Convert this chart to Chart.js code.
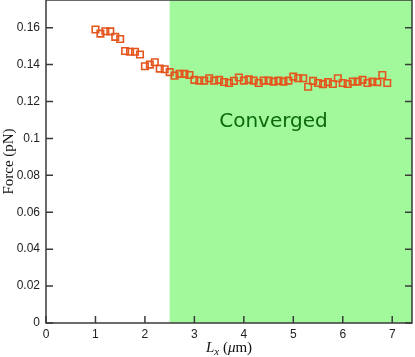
<!DOCTYPE html>
<html>
<head>
<meta charset="utf-8">
<script src="https://cdn.jsdelivr.net/npm/chart.js@4/dist/chart.umd.min.js"></script>
<style>
    html, body { margin: 0; padding: 0; background: #fff; }
    #wrap { width: 415px; height: 357px; }
</style>
</head>
<body>
<div id="wrap"><canvas id="forceChart" width="415" height="357"></canvas></div>
<script>
// Box length Lx (um) of each run
const lengths = [
    1.0, 1.1, 1.2, 1.3, 1.4, 1.5, 1.6, 1.7, 1.8, 1.9,
    2.0, 2.1, 2.2, 2.3, 2.4, 2.5, 2.6, 2.7, 2.8, 2.9,
    3.0, 3.1, 3.2, 3.3, 3.4, 3.5, 3.6, 3.7, 3.8, 3.9,
    4.0, 4.1, 4.2, 4.3, 4.4, 4.5, 4.6, 4.7, 4.8, 4.9,
    5.0, 5.1, 5.2, 5.3, 5.4, 5.5, 5.6, 5.7, 5.8, 5.9,
    6.0, 6.1, 6.2, 6.3, 6.4, 6.5, 6.6, 6.7, 6.8, 6.9
];
// Measured force (pN)
const forces = [
    0.1590, 0.1568, 0.1581, 0.1580, 0.1550, 0.1539, 0.1474, 0.1470, 0.1470, 0.1455,
    0.1391, 0.1400, 0.1413, 0.1378, 0.1375, 0.1359, 0.1340, 0.1350, 0.1350, 0.1344,
    0.1317, 0.1313, 0.1313, 0.1326, 0.1313, 0.1317, 0.1306, 0.1300, 0.1312, 0.1330,
    0.1313, 0.1320, 0.1313, 0.1300, 0.1313, 0.1313, 0.1308, 0.1313, 0.1308, 0.1313,
    0.1335, 0.1326, 0.1326, 0.1280, 0.1312, 0.1300, 0.1294, 0.1305, 0.1295, 0.1326,
    0.1300, 0.1295, 0.1308, 0.1308, 0.1317, 0.1300, 0.1308, 0.1305, 0.1344, 0.1300
];
const xTicks = [0, 1, 2, 3, 4, 5, 6, 7];
const yTicks = [0, 0.02, 0.04, 0.06, 0.08, 0.1, 0.12, 0.14, 0.16];
const convergedFrom = 2.5;
const convergedLabel = "Converged";

const axisColor = "#3a3a3a";

// green shaded band + label, drawn under the markers
const bandPlugin = {
    id: "band",
    beforeDatasetsDraw(chart) {
        const { ctx, chartArea, scales } = chart;
        const x0 = scales.x.getPixelForValue(convergedFrom);
        ctx.save();
        ctx.fillStyle = "#a2f99c";
        ctx.fillRect(x0, chartArea.top, chartArea.right - x0, chartArea.bottom - chartArea.top);
        ctx.fillStyle = "#0b6a0b";
        ctx.font = "20px 'DejaVu Sans'";
        ctx.textAlign = "center";
        ctx.textBaseline = "middle";
        ctx.fillText(convergedLabel, scales.x.getPixelForValue(4.6), scales.y.getPixelForValue(0.109));
        ctx.restore();
    }
};

// box, inward ticks and the two axis titles
const framePlugin = {
    id: "frame",
    afterDraw(chart) {
        const { ctx, chartArea: a, scales } = chart;
        ctx.save();
        ctx.strokeStyle = axisColor;
        ctx.lineWidth = 1.5;
        ctx.beginPath();
        xTicks.forEach(v => {
            const px = scales.x.getPixelForValue(v);
            ctx.moveTo(px, a.bottom);
            ctx.lineTo(px, a.bottom - 7);
        });
        yTicks.forEach(v => {
            const py = scales.y.getPixelForValue(v);
            ctx.moveTo(a.left, py);
            ctx.lineTo(a.left + 7, py);
            ctx.moveTo(a.right, py);
            ctx.lineTo(a.right - 7, py);
        });
        ctx.stroke();
        ctx.strokeRect(a.left, a.top, a.right - a.left, a.bottom - a.top);

        // x title: L_x (μm)
        ctx.fillStyle = "#111";
        ctx.textBaseline = "alphabetic";
        ctx.textAlign = "left";
        const serif = "'Liberation Serif'";
        const parts = [
            { t: "L", f: `italic 15px ${serif}`, dy: 0 },
            { t: "x", f: `italic 11px ${serif}`, dy: 3 },
            { t: " (", f: `15px ${serif}`, dy: 0 },
            { t: "μ", f: `italic 15px ${serif}`, dy: 0 },
            { t: "m)", f: `15px ${serif}`, dy: 0 }
        ];
        let total = 0;
        parts.forEach(p => { ctx.font = p.f; p.w = ctx.measureText(p.t).width; total += p.w; });
        let cx = (a.left + a.right) / 2 - total / 2;
        parts.forEach(p => {
            ctx.font = p.f;
            ctx.fillText(p.t, cx, 352 + p.dy);
            cx += p.w;
        });

        // y title
        ctx.translate(9, (a.top + a.bottom) / 2);
        ctx.rotate(-Math.PI / 2);
        ctx.textAlign = "center";
        ctx.textBaseline = "middle";
        ctx.font = `15px ${serif}`;
        ctx.fillText("Force (pN)", 0, 0);
        ctx.restore();
    }
};

const tickFont = { family: "'Liberation Sans', Arial, sans-serif", size: 12 };

new Chart(document.getElementById("forceChart"), {
    type: "scatter",
    data: {
        datasets: [{
            data: lengths.map((x, i) => ({ x, y: forces[i] })),
            pointStyle: "rect",
            pointRadius: 4.6,
            pointHoverRadius: 4.6,
            borderWidth: 1.6,
            borderColor: "#e4561e",
            backgroundColor: "rgba(0,0,0,0)"
        }]
    },
    options: {
        responsive: false,
        animation: false,
        layout: { autoPadding: false, padding: { top: 0, right: 3, left: 0, bottom: 0 } },
        plugins: {
            legend: { display: false },
            tooltip: { enabled: false }
        },
        scales: {
            x: {
                type: "linear",
                min: 0,
                max: 7.4,
                afterBuildTicks: s => { s.ticks = xTicks.map(v => ({ value: v })); },
                afterFit: s => { s.height = 34; s.paddingLeft = 0; s.paddingRight = 0; },
                grid: { display: false, drawTicks: false },
                border: { display: false },
                ticks: { padding: 4, color: "#222", font: tickFont, maxRotation: 0 }
            },
            y: {
                type: "linear",
                min: 0,
                max: 0.175,
                afterBuildTicks: s => { s.ticks = yTicks.map(v => ({ value: v })); },
                afterFit: s => { s.width = 46; s.paddingTop = 0; s.paddingBottom = 0; },
                grid: { display: false, drawTicks: false },
                border: { display: false },
                ticks: { padding: 6, color: "#222", font: tickFont, callback: v => String(+v.toFixed(2)) }
            }
        }
    },
    plugins: [bandPlugin, framePlugin]
});
</script>
</body>
</html>
